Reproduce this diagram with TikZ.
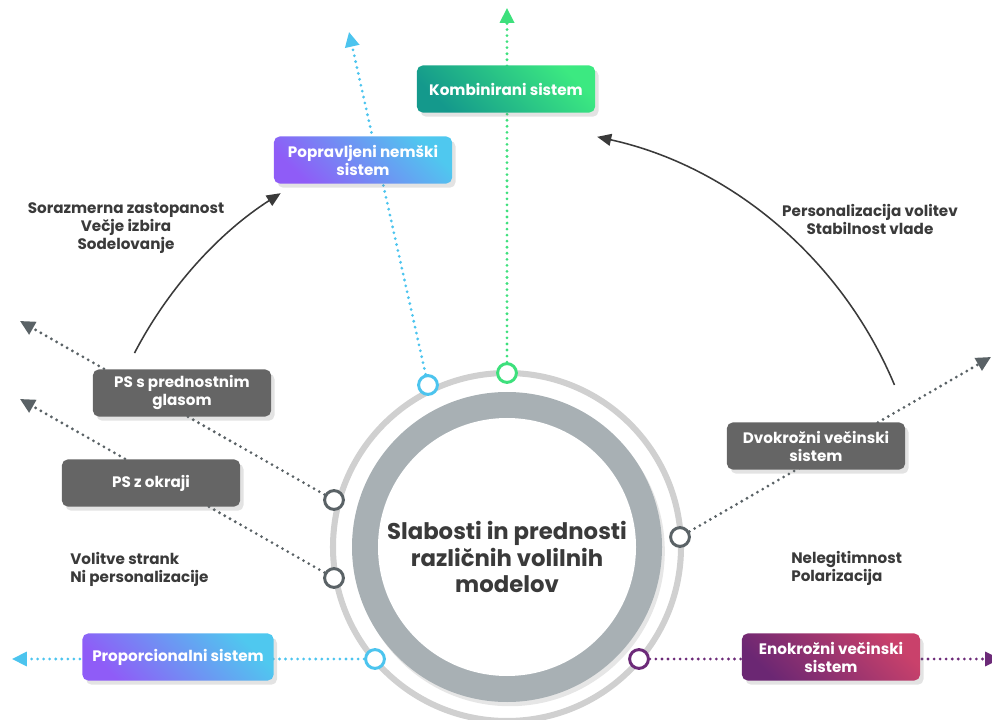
\documentclass[tikz,border=0pt]{standalone}
\usepackage{fontspec}
\setmainfont{Poppins}
\usetikzlibrary{arrows.meta,shadows}

\definecolor{boxgray}{HTML}{656565}
\definecolor{notegray}{HTML}{3A3A3A}
\definecolor{dotgray}{HTML}{5A6266}
\definecolor{dotblue}{HTML}{4CC4EE}
\definecolor{dotgreen}{HTML}{3DE07C}
\definecolor{dotpurple}{HTML}{6C2A78}
\definecolor{ringlight}{HTML}{D0D0D0}
\definecolor{ringdark}{HTML}{A8B0B4}
\definecolor{tealA}{HTML}{14998C}
\definecolor{tealB}{HTML}{3CE981}
\definecolor{violetA}{HTML}{8F5CF7}
\definecolor{violetB}{HTML}{4FC8EF}
\definecolor{plumA}{HTML}{6B2773}
\definecolor{plumB}{HTML}{C9416B}

\begin{document}
\begin{tikzpicture}[x=0.025cm,y=-0.025cm,
  box/.style={rounded corners=4pt,align=center,text=white,inner sep=0pt,
    font=\bfseries\fontsize{10.8}{12.8}\selectfont,
    minimum width=4.45cm,minimum height=1.175cm,
    drop shadow={opacity=0.22,shadow xshift=2.5pt,shadow yshift=-3pt}},
  graybox/.style={box,fill=boxgray},
  tealbox/.style={box,bottom color=tealA,top color=tealB,shading angle=-45},
  violetbox/.style={box,bottom color=violetA,top color=violetB,shading angle=-45},
  plumbox/.style={box,bottom color=plumA,top color=plumB,shading angle=-45},
  ringdot/.style={circle,draw=#1,fill=white,line width=2.1pt,minimum size=0.47cm,inner sep=0pt},
  dotline/.style={draw=#1,line width=2.2pt,line cap=round,dash pattern=on 0pt off 4.3pt,
    -{Triangle[length=10.5pt,width=10pt,fill=#1]}},
  arcarrow/.style={draw=notegray,line width=1.1pt,-{Triangle[length=10pt,width=8.5pt]}},
  note/.style={text=notegray,inner sep=0pt,font=\bfseries\fontsize{10.8}{12.8}\selectfont}
]
\useasboundingbox (0,0) rectangle (992,720);
% Centre: rings and title
\coordinate (ctr) at (507,547);
\draw[ringlight,line width=4.3pt] (ctr) circle (174);
\fill[ringdark,drop shadow={opacity=0.2,shadow xshift=2pt,shadow yshift=-3pt}] (ctr) circle (155);
\fill[white] (ctr) circle (129);
\node[text=notegray,align=center,font=\bfseries\fontsize{16.2}{18.9}\selectfont] (title) at (507,557)
  {Slabosti in prednosti\\različnih volilnih\\modelov};
% Dots on the ring
\node[ringdot=dotblue] (popdot) at (428,385) {};
\node[ringdot=dotgreen] (kombdot) at (507,373) {};
\node[ringdot=dotgray] (glasdot) at (334,500) {};
\node[ringdot=dotgray] (okrdot) at (334,578) {};
\node[ringdot=dotgray] (dvodot) at (680,537) {};
\node[ringdot=dotblue] (propdot) at (375,659) {};
\node[ringdot=dotpurple] (enodot) at (639,659) {};
% Ends of the dotted arrows
\coordinate (poptip) at (349,32);
\coordinate (kombtip) at (507,8);
\coordinate (glastip) at (20,321);
\coordinate (okrtip) at (20,399);
\coordinate (dvotip) at (991,357);
\coordinate (proptip) at (12,659);
\coordinate (enotip) at (1000,659);
% Dotted arrows
\draw[dotline=dotblue] (popdot) -- (poptip);
\draw[dotline=dotgreen] (kombdot) -- (kombtip);
\draw[dotline=dotgray] (glasdot) -- (glastip);
\draw[dotline=dotgray] (okrdot) -- (okrtip);
\draw[dotline=dotgray] (dvodot) -- (dvotip);
\draw[dotline=dotblue] (propdot) -- (proptip);
\draw[dotline=dotpurple] (enodot) -- (enotip);
% Boxes
\node[tealbox] (komb) at (506,89) {Kombinirani sistem};
\node[violetbox] (poprav) at (363,160) {Popravljeni nemški\\sistem};
\node[graybox] (glas) at (182,393) {PS s prednostnim\\glasom};
\node[graybox] (okr) at (151,483) {PS z okraji};
\node[graybox] (dvo) at (816,446) {Dvokrožni večinski\\sistem};
\node[violetbox,minimum width=4.775cm] (prop) at (178,657) {Proporcionalni sistem};
\node[plumbox] (eno) at (831,657) {Enokrožni večinski\\sistem};
% Curved arrows
\draw[arcarrow] ([shift={(-152.5:420)}]ctr) arc (-152.5:-122.6:420);
\draw[arcarrow] ([shift={(-22.7:420)}]ctr) arc (-22.7:-77.6:420);
% Notes
\node[note,align=center] (sorazm) at (126,228) {Sorazmerna zastopanost\\Večje izbira\\Sodelovanje};
\node[note,align=center] (person) at (870,219) {Personalizacija volitev\\Stabilnost vlade};
\node[note,align=left,anchor=west] (volit) at (70,569) {Volitve strank\\Ni personalizacije};
\node[note,align=left,anchor=west] (neleg) at (791,568) {Nelegitimnost\\Polarizacija};
\end{tikzpicture}
\end{document}
